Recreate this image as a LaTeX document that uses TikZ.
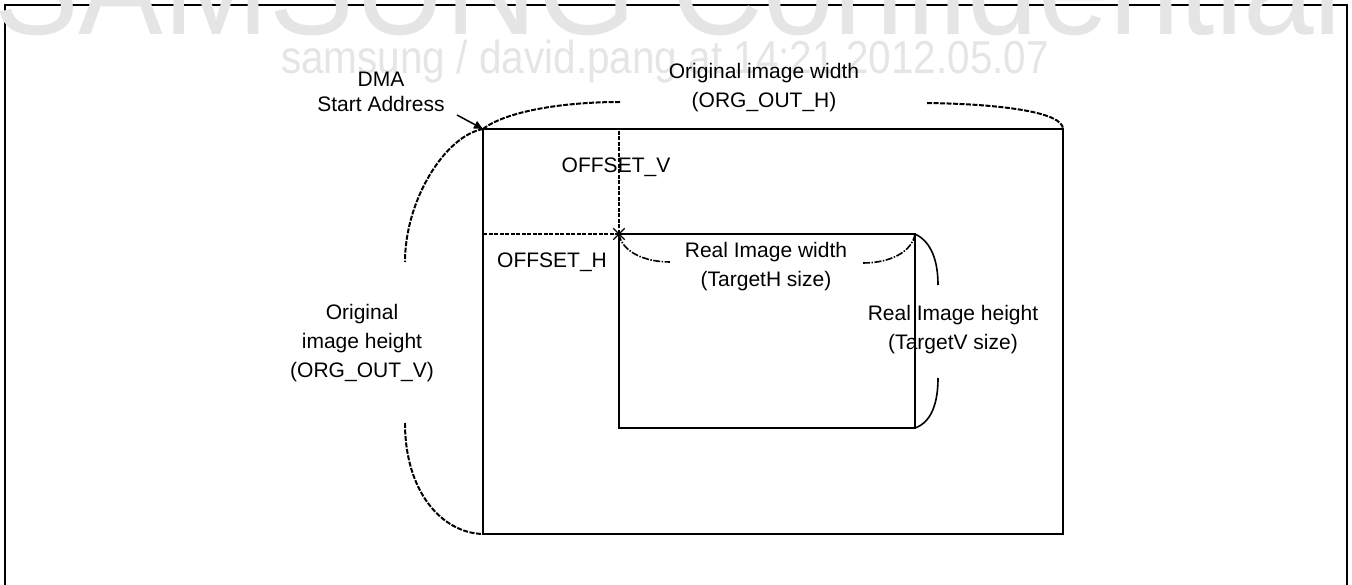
\documentclass[tikz,border=0pt]{standalone}
\usepackage{graphicx}
\usepackage{fontspec}
\setmainfont{Liberation Sans}
\usetikzlibrary{arrows.meta,shapes.misc}
\begin{document}
\begin{tikzpicture}[x=1pt,y=1pt,
  lbl/.style={font=\fontsize{21}{29}\selectfont, align=center, inner sep=0},
  frameline/.style={line width=2.5pt},
  rectline/.style={draw, line width=2pt, inner sep=0, outer sep=0, anchor=north west},
  thinrect/.style={draw, line width=1.7pt, inner sep=0, outer sep=0, anchor=north west},
  dcurve/.style={line width=2pt, dash pattern=on 5pt off 1.5pt},
  ddcurve/.style={line width=1.6pt, dash pattern=on 7pt off 1.5pt on 1.5pt off 1.5pt},
  scurve/.style={line width=1.6pt},
  offdash/.style={line width=1.6pt, dash pattern=on 4pt off 1.5pt},
  wm/.style={text=black!10, inner sep=0, anchor=base west}
]
\useasboundingbox (0,0) rectangle (1352,-585);
\draw[frameline] (5,-590) -- (5,-5) -- (1347,-5) -- (1347,-590);
\node[wm, font=\fontsize{127}{127}\selectfont] (wmbig) at (-6,-35) {\scalebox{1}[1.08]{SAMSUNG Confidential}};
\node[wm, font=\fontsize{40.5}{40.5}\selectfont] (wmsmall) at (281,-74) {\scalebox{1}[1.14]{samsung / david.pang at 14:21,2012.05.07}};

\node[rectline, minimum width=580, minimum height=405] (orig) at (483,-129) {};
\node[thinrect, minimum width=296, minimum height=194] (real) at (619,-234) {};

\draw[offdash] (real.north west) -- (real.north west |- orig.north);
\draw[offdash] (real.north west) -- (real.north west -| orig.west);
\node[cross out, draw, line width=1.4pt, minimum size=10pt, inner sep=0] (xm) at (real.north west) {};

\coordinate (owl) at (620,-102);
\coordinate (owr) at (927,-103);
\coordinate (ohu) at (405,-262);
\coordinate (ohl) at (405,-423);
\draw[dcurve] (orig.north west) .. controls (505,-112) and (560,-102) .. (owl);
\draw[dcurve] (owr) .. controls (1000,-104) and (1063,-112) .. (orig.north east);
\draw[dcurve] (orig.north west) .. controls (445,-136) and (405,-200) .. (ohu);
\draw[dcurve] (ohl) .. controls (405,-492) and (442,-533) .. (orig.south west);

\coordinate (rwl) at (670,-262);
\coordinate (rwr) at (863,-263);
\coordinate (rhu) at (938,-285);
\coordinate (rhl) at (938,-378);
\draw[ddcurve] (real.north west) .. controls (622,-252) and (645,-262) .. (rwl);
\draw[ddcurve] (rwr) .. controls (890,-263) and (912,-252) .. (real.north east);
\draw[scurve] (real.north east) .. controls (932,-242) and (938,-262) .. (rhu);
\draw[scurve] (rhl) .. controls (938,-402) and (932,-422) .. (real.south east);

\node[lbl, font=\fontsize{21}{25}\selectfont] (dma) at (381,-92) {DMA\\Start Address};
\coordinate (arrs) at (457,-115);
\draw[-{Triangle[length=9pt,width=8pt]}, line width=1.5pt] (arrs) -- (orig.north west);

\node[lbl] (owlbl) at (764,-88) {Original image width\\(ORG\_OUT\_H)};
\node[lbl] (offv) at (616,-167) {OFFSET\_V};
\node[lbl] (offh) at (552,-262) {OFFSET\_H};
\node[lbl] (rw) at (766,-267) {Real Image width\\(TargetH size)};
\node[lbl] (rh) at (953,-330) {Real Image height\\(TargetV size)};
\node[lbl] (oh) at (362,-343) {Original\\image height\\(ORG\_OUT\_V)};
\end{tikzpicture}
\end{document}
